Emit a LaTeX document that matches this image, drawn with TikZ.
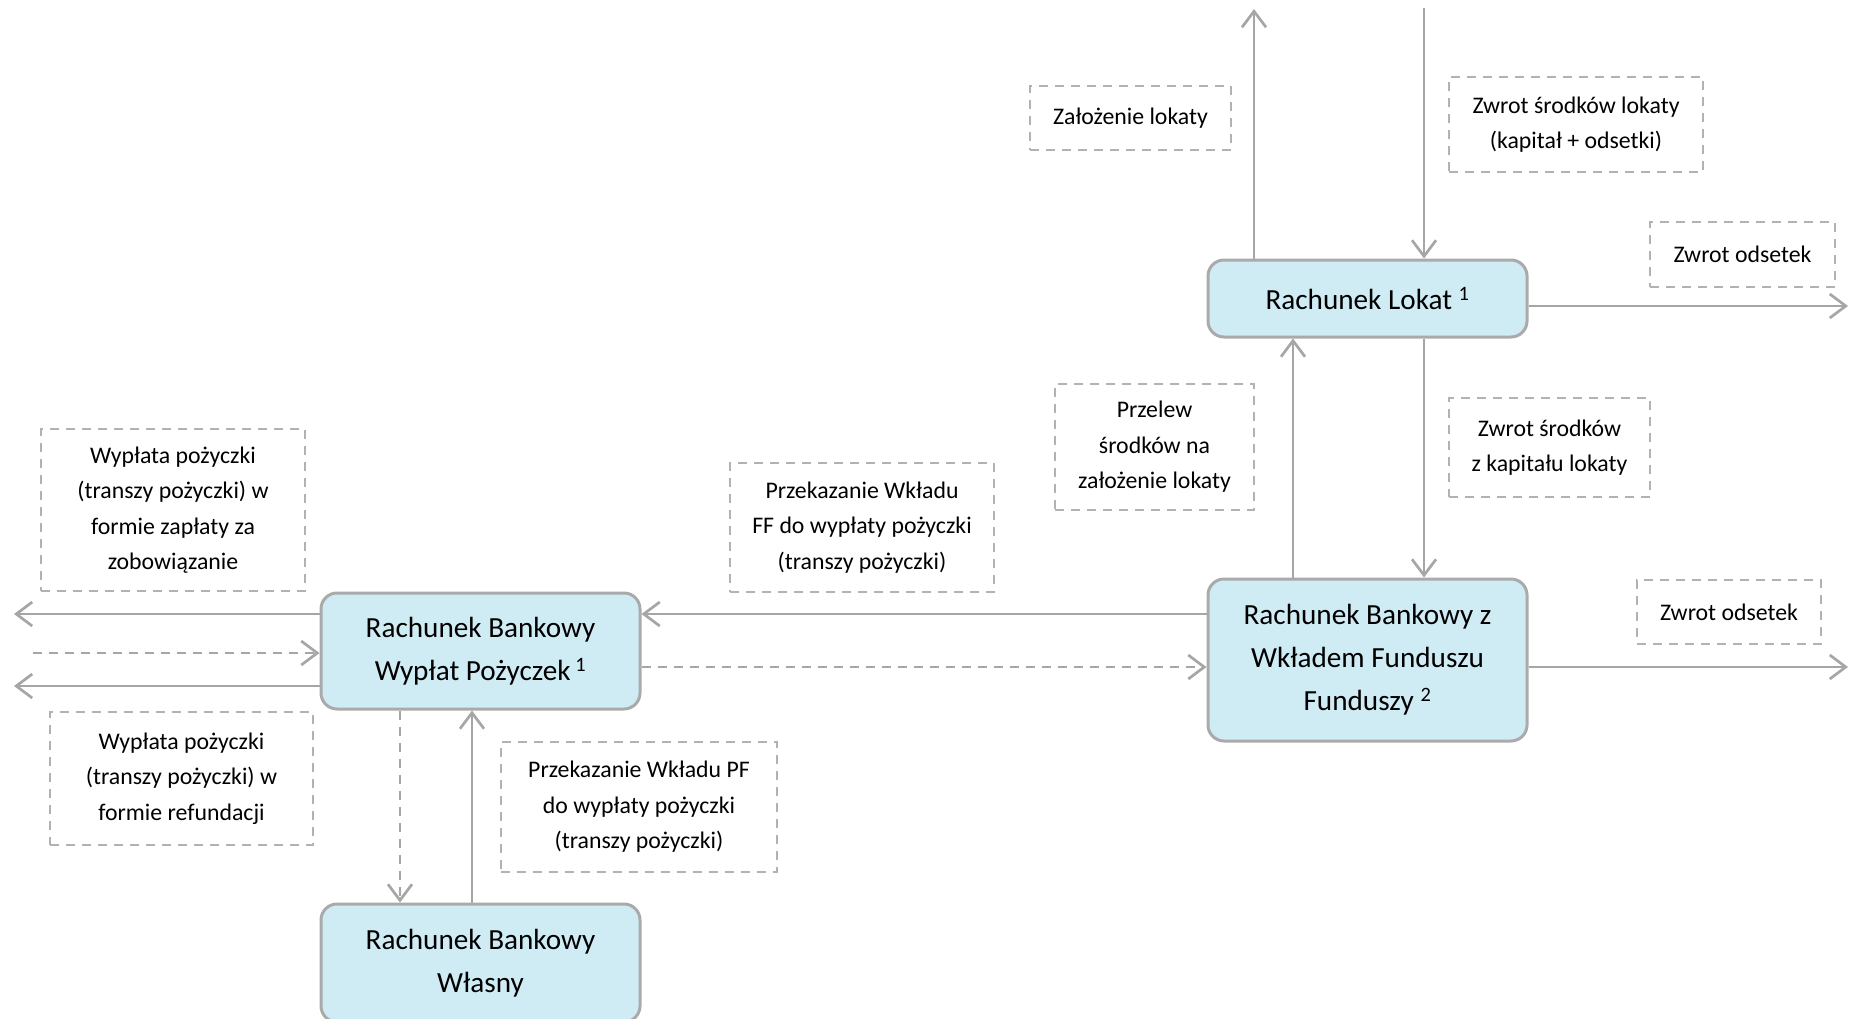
\documentclass[tikz,border=0pt]{standalone}
\usepackage{fontspec}
\setmainfont{Carlito}
\usetikzlibrary{arrows.meta,calc}
\definecolor{linegray}{RGB}{166,166,166}
\definecolor{dashgray}{RGB}{178,178,178}
\definecolor{boxfill}{RGB}{207,236,245}
\definecolor{boxline}{RGB}{170,170,170}
\begin{document}
\begin{tikzpicture}[x=1bp,y=-1bp,
  acct/.style={draw=boxline, line width=3bp, fill=boxfill, rounded corners=16bp, align=center, inner sep=0pt, font=\fontsize{29.2bp}{43bp}\selectfont},
  lbl/.style={draw=dashgray, line width=2.5bp, dash pattern=on 9bp off 7bp, align=center, inner sep=0pt, font=\fontsize{23.8bp}{35.5bp}\selectfont},
  arr/.style={draw=linegray, line width=2.7bp, -{Straight Barb[length=16bp,width=24bp]}},
  darr/.style={arr, dash pattern=on 9bp off 7bp}]
\useasboundingbox (0,0) rectangle (1852,1018);
\clip (0,0) rectangle (1852,1018);

% account boxes
\node[acct, minimum width=319bp, minimum height=77bp] (lokat) at (1367.5,298.5) {Rachunek Lokat \textsuperscript{1}};
\node[acct, minimum width=319bp, minimum height=162bp] (wklad) at (1367.5,660) {Rachunek Bankowy z\\Wkładem Funduszu\\Funduszy \textsuperscript{2}};
\node[acct, minimum width=319bp, minimum height=116bp] (wyplat) at (480.5,651) {Rachunek Bankowy\\Wypłat Pożyczek\,\textsuperscript{1}};
\node[acct, minimum width=319bp, minimum height=118bp] (wlasny) at (480.5,963) {Rachunek Bankowy\\Własny};

% label boxes
\node[lbl, minimum width=201bp, minimum height=64bp] (zal) at (1130.5,118) {Założenie lokaty};
\node[lbl, minimum width=254bp, minimum height=95bp] (zwrot1) at (1576,124.5) {Zwrot środków lokaty\\(kapitał + odsetki)};
\node[lbl, minimum width=185bp, minimum height=65bp] (ods1) at (1742.5,254.5) {Zwrot odsetek};
\node[lbl, minimum width=199bp, minimum height=126bp] (przelew) at (1154.5,447) {Przelew\\środków na\\założenie lokaty};
\node[lbl, minimum width=201bp, minimum height=99bp] (zwrot2) at (1549.5,447.5) {Zwrot środków\\z kapitału lokaty};
\node[lbl, minimum width=264bp, minimum height=129bp] (przekFF) at (862,527.5) {Przekazanie Wkładu\\FF do wypłaty pożyczki\\(transzy pożyczki)};
\node[lbl, minimum width=184bp, minimum height=64bp] (ods2) at (1729,612) {Zwrot odsetek};
\node[lbl, minimum width=264bp, minimum height=162bp] (wyp1) at (173,510) {Wypłata pożyczki\\(transzy pożyczki) w\\formie zapłaty za\\zobowiązanie};
\node[lbl, minimum width=263bp, minimum height=133bp] (wyp2) at (181.5,778.5) {Wypłata pożyczki\\(transzy pożyczki) w\\formie refundacji};
\node[lbl, minimum width=276bp, minimum height=130bp] (przekPF) at (639,807) {Przekazanie Wkładu PF\\do wypłaty pożyczki\\(transzy pożyczki)};

% free ends and guide coordinates
\coordinate (upT) at (1254,9);
\coordinate (downT) at (1424,8);
\coordinate (lokR) at (1848,306);
\coordinate (wklR) at (1848,667);
\coordinate (upX) at (1293,0);
\coordinate (yA) at (0,614);
\coordinate (yB) at (0,667);
\coordinate (wypL1) at (14,614);
\coordinate (wypIn) at (33,653);
\coordinate (wypL2) at (14,686);
\coordinate (xD) at (400,0);
\coordinate (xU) at (472,0);

% connectors
\draw[arr] (lokat.north -| upT) -- (upT);
\draw[arr] (downT) -- (lokat.north -| downT);
\draw[arr] (lokat.east |- lokR) -- (lokR);
\draw[arr] (wklad.north -| upX) -- (lokat.south -| upX);
\draw[arr] (lokat.south -| downT) -- (wklad.north -| downT);
\draw[arr] (wklad.west |- yA) -- (wyplat.east |- yA);
\draw[darr] (wyplat.east |- yB) -- (wklad.west |- yB);
\draw[arr] (wklad.east |- wklR) -- (wklR);
\draw[arr] (wyplat.west |- wypL1) -- (wypL1);
\draw[darr] (wypIn) -- (wyplat.west |- wypIn);
\draw[arr] (wyplat.west |- wypL2) -- (wypL2);
\draw[darr] (wyplat.south -| xD) -- (wlasny.north -| xD);
\draw[arr] (wlasny.north -| xU) -- (wyplat.south -| xU);
\end{tikzpicture}
\end{document}
